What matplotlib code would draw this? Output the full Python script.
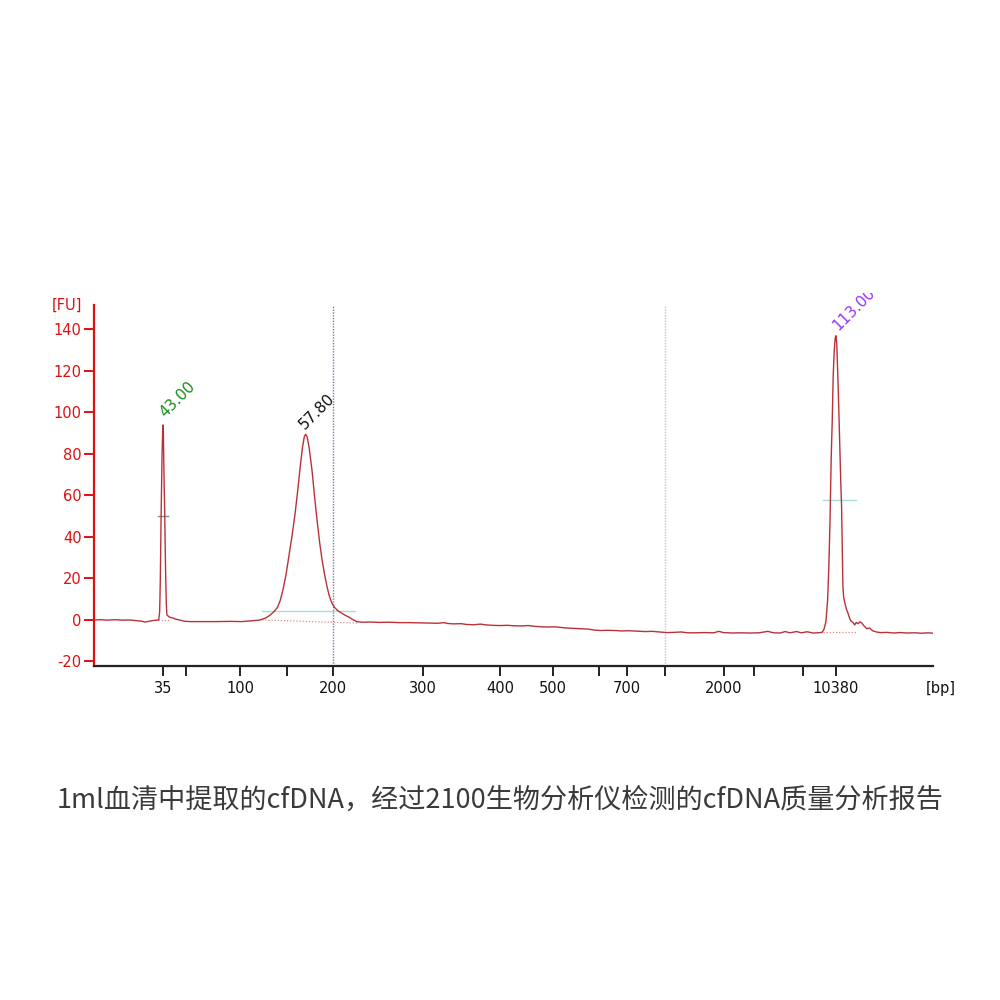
import matplotlib
matplotlib.use("Agg")
import matplotlib.pyplot as plt
from matplotlib.patches import Rectangle

# ---------------- data ----------------
# ladder (bp) and its migration time (s)
ladder_bp = [35, 50, 100, 150, 200, 300, 400, 500, 600, 700, 1000, 2000, 3000, 7000, 10380]
ladder_time = [43.00, 45.39, 51.01, 55.90, 60.68, 70.04, 78.05, 83.56, 88.35, 91.26,
               95.21, 101.35, 104.47, 109.57, 113.00]
labelled_bp = [35, 100, 200, 300, 400, 500, 700, 2000, 10380]

y_ticks = [-20, 0, 20, 40, 60, 80, 100, 120, 140]

# electropherogram trace (time s, FU)
trace_time = [35.82, 36.5, 37.2, 38.0, 38.8, 39.5, 40.2, 40.8, 41.1, 41.5, 41.9, 42.3, 42.55,
              42.65, 42.72, 42.80, 42.90, 42.97, 43.00, 43.04, 43.10, 43.18, 43.26, 43.34, 43.40,
              43.55, 43.75, 44.0, 44.3, 44.7, 45.2, 45.8, 47.0, 48.5, 50.0, 51.2, 52.0, 52.6,
              53.0, 53.3, 53.7, 54.1, 54.5, 54.9, 55.2, 55.5, 55.8, 56.1, 56.4, 56.73, 57.0,
              57.25, 57.5, 57.7, 57.85, 58.0, 58.2, 58.5, 58.75, 59.02, 59.3, 59.54, 59.8,
              60.06, 60.3, 60.58, 60.85, 61.10, 61.5, 61.93, 62.4, 62.8, 63.2, 63.8, 64.6,
              65.5, 66.5, 67.6, 68.6, 69.6, 70.6, 71.6, 72.2, 72.6, 73.2, 74.0, 74.6, 75.4,
              76.0, 76.6, 77.3, 78.0, 78.8, 79.5, 80.3, 81.0, 81.7, 82.3, 83.0, 83.7, 84.3,
              85.0, 85.8, 86.5, 87.2, 87.9, 88.5, 89.2, 90.0, 90.7, 91.5, 92.3, 93.1, 93.9,
              94.7, 95.4, 96.1, 96.9, 97.6, 98.4, 99.2, 100.0, 100.3, 100.8, 101.3, 102.2,
              103.1, 104.0, 105.0, 105.9, 106.5, 107.2, 107.7, 108.2, 108.9, 109.4, 110.0,
              110.6, 111.1, 111.55, 111.75, 111.95, 112.13, 112.25, 112.37, 112.50, 112.61,
              112.71, 112.82, 112.92, 113.00, 113.08, 113.16, 113.23, 113.32, 113.41, 113.50,
              113.58, 113.65, 113.72, 113.80, 113.93, 114.1, 114.24, 114.4, 114.55, 114.76,
              114.95, 115.1, 115.3, 115.5, 115.7, 115.9, 116.2, 116.5, 116.8, 117.2, 117.6,
              118.3, 119.0, 119.7, 120.4, 121.2, 121.9, 122.6, 123.09]
trace_fu = [0.0, 0.1, -0.1, 0.1, -0.1, 0.0, -0.3, -0.6, -1.0, -0.7, -0.3, -0.1, 0.0,
            4, 20, 50, 80, 92, 94, 90, 70, 50, 25, 8, 2.5,
            1.8, 1.2, 1.0, 0.4, 0.0, -0.6, -0.8, -0.8, -0.8, -0.7, -0.8, -0.5, -0.3,
            -0.1, 0.3, 1.0, 2.2, 3.8, 6.0, 9.5, 15, 22, 31, 40, 51, 62,
            73, 83, 88.5, 89.5, 88, 83, 72, 60, 48, 37, 29, 22,
            16, 11.5, 8.0, 6.0, 4.8, 3.5, 2.3, 1.2, 0.0, -0.9, -1.1, -1.0,
            -1.2, -1.1, -1.3, -1.3, -1.4, -1.5, -1.6, -1.3, -1.7, -1.9, -1.8, -2.2, -2.3,
            -2.0, -2.4, -2.6, -2.7, -2.6, -2.8, -2.9, -2.7, -3.1, -3.3, -3.4, -3.3, -3.6,
            -3.9, -4.1, -4.3, -4.4, -4.9, -5.1, -5.0, -5.1, -5.3, -5.2, -5.4, -5.6, -5.5,
            -5.8, -6.1, -6.0, -5.8, -6.2, -6.2, -6.1, -6.2, -6.2, -5.5, -6.1, -6.3,
            -6.2, -6.3, -6.2, -5.5, -6.2, -6.3, -5.6, -6.2, -5.6, -6.2, -5.7,
            -6.3, -6.2, -6.0, -4.5, -1.0, 9.6, 25, 46, 78, 96,
            118, 130, 136, 137, 133, 122, 112, 96, 80, 66,
            55, 34, 16, 11, 8, 5, 3.4, 1.0, -0.5, -1.2,
            -2.4, -1.2, -1.8, -0.9, -1.6, -2.8, -4.2, -3.9, -5.2, -5.8, -6.1,
            -6.0, -6.3, -6.1, -6.3, -6.2, -6.4, -6.2, -6.4]

# peaks: label (migration time), colour, half-height, width bounds, baseline
peak_labels = ["43.00", "57.80", "113.00"]
peak_label_x = [43.2, 57.75, 113.2]
peak_label_y = [97.3, 91.6, 139.5]
peak_colors = ["#1c8a1c", "#111111", "#9b30ff"]

half_height_y = [50, 4.3, 58]
half_height_x0 = [42.48, 53.30, 111.64]
half_height_x1 = [43.52, 62.97, 115.07]
base_x0 = [42.48, 53.30, 111.64]
base_x1 = [43.70, 63.18, 115.10]
base_y0 = [0.0, 0.0, -6.0]
base_y1 = [0.0, -1.5, -6.0]

region_lines = [60.68, 95.21]

caption = "1ml血清中提取的cfDNA，经过2100生物分析仪检测的cfDNA质量分析报告"

# ---------------- figure ----------------
red = "#dd1111"
fig = plt.figure(figsize=(10, 10), dpi=100)
ax = fig.add_axes([0.094, 0.334, 0.839, 0.361])

ax.set_xlim(35.82, 123.09)
ax.set_ylim(-22.2, 151.8)

# region dotted lines
ax.axvline(region_lines[0], color="#7a7aa8", lw=1.0, ls=(0, (1, 1)))
ax.axvline(region_lines[1], color="#c0c0d8", lw=1.0, ls=(0, (1, 1)))

# baselines and half-height markers
for i in range(3):
    ax.plot([base_x0[i], base_x1[i]], [base_y0[i], base_y1[i]], color="#e08a8a",
            lw=0.9, ls=(0, (1, 1.5)))
hh_colors = ["#6d9a9a", "#a8dddd", "#a8dddd"]
for i in range(3):
    ax.plot([half_height_x0[i], half_height_x1[i]], [half_height_y[i]] * 2,
            color=hh_colors[i], lw=1.0)

# trace
ax.plot(trace_time, trace_fu, color="#b8323a", lw=1.0)

# peak labels (the plot window cuts the top of the highest label)
clip_rect = Rectangle((0, 0), 1, 0.707, transform=fig.transFigure)
for i in range(3):
    t = ax.text(peak_label_x[i], peak_label_y[i], peak_labels[i], rotation=45,
                rotation_mode="anchor", ha="left", va="baseline",
                color=peak_colors[i], fontsize=11)
    t.set_clip_on(True)
    t.set_clip_box(None)
    t.set_clip_path(clip_rect)

# spines
for s in ["top", "right"]:
    ax.spines[s].set_visible(False)
ax.spines["left"].set_color(red)
ax.spines["left"].set_linewidth(1.6)
ax.spines["bottom"].set_color("#222222")
ax.spines["bottom"].set_linewidth(1.6)

# y axis
ax.set_yticks(y_ticks)
ax.set_yticklabels([str(v) for v in y_ticks])
ax.tick_params(axis="y", colors=red, labelcolor=red, length=7, width=1.4,
               labelsize=10.5, pad=2)

# x axis
ax.set_xticks(ladder_time)
ax.set_xticklabels([str(b) if b in labelled_bp else "" for b in ladder_bp])
ax.tick_params(axis="x", colors="#222222", labelcolor="#111111", length=7, width=1.4,
               labelsize=10.5, pad=4)

fig.text(0.052, 0.695, "[FU]", color=red, fontsize=10.5, ha="left", va="center")
fig.text(0.941, 0.312, "[bp]", color="#111111", fontsize=10.5, ha="center", va="center")

fig.text(0.5, 0.2, caption, ha="center", va="center", fontsize=19.5, color="#3a3a3a",
         family=["Noto Sans CJK SC", "DejaVu Sans"], fontweight="light")

fig.savefig("out.png", dpi=100, facecolor="white")
